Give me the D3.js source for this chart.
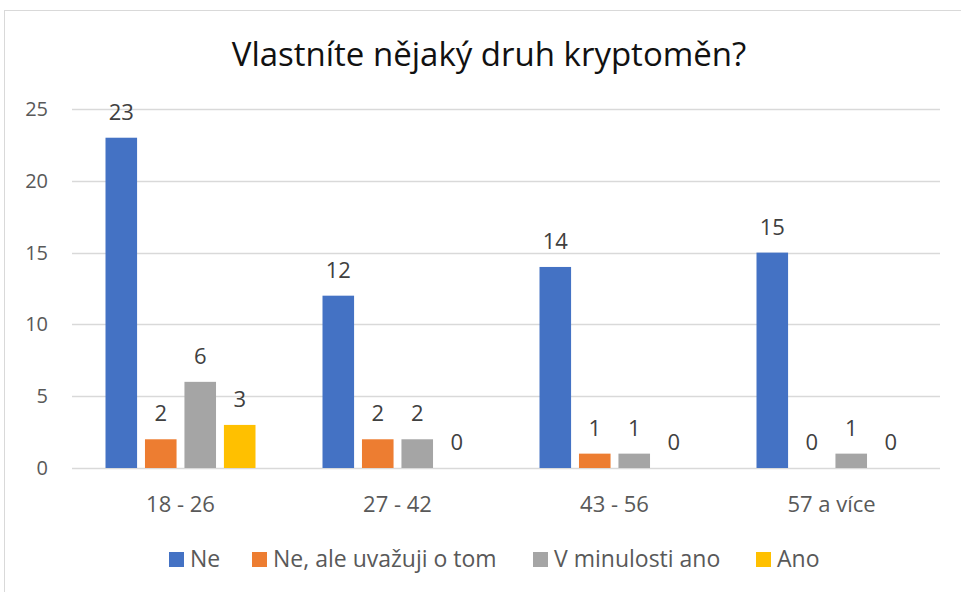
<!DOCTYPE html>
<html>
<head>
<meta charset="utf-8">
<script src="https://cdn.jsdelivr.net/npm/d3@7"></script>
<style>
  body { margin: 0; background: #fff; }
  svg { display: block; }
</style>
</head>
<body>
<div id="chart"></div>
<script>
const categories = ["18 - 26", "27 - 42", "43 - 56", "57 a více"];
const seriesNames = ["Ne", "Ne, ale uvažuji o tom", "V minulosti ano", "Ano"];
const ne = [23, 12, 14, 15];
const neAleUvazuji = [2, 2, 1, 0];
const vMinulostiAno = [6, 2, 1, 1];
const ano = [3, 0, 0, 0];
const yTicks = [0, 5, 10, 15, 20, 25];
const colors = ["#4472C4", "#ED7D31", "#A5A5A5", "#FFC000"];

const seriesValues = [ne, neAleUvazuji, vMinulostiAno, ano];
const font = "'Open Sans', 'Noto Sans', sans-serif";

const width = 961, height = 592;
const svg = d3.select("#chart").append("svg")
  .attr("width", width).attr("height", height);

// chart frame
svg.append("rect")
  .attr("x", 4.5).attr("y", 10.5)
  .attr("width", 1000).attr("height", 1000)
  .attr("fill", "#fff").attr("stroke", "#d9d9d9");

svg.append("text")
  .attr("x", 489).attr("y", 66)
  .attr("text-anchor", "middle")
  .attr("font-family", font).attr("font-size", 33)
  .attr("fill", "#111")
  .text("Vlastníte nějaký druh kryptoměn?");

const x0 = d3.scaleBand().domain(categories).range([72, 940]);
const x1 = d3.scaleBand().domain(seriesNames)
  .range([33.5, x0.bandwidth() - 33.5]).paddingInner(0.2);
const y = d3.scaleLinear().domain([0, 25]).range([468, 109]);

// gridlines
svg.append("g").selectAll("line").data(yTicks).join("line")
  .attr("x1", 72).attr("x2", 940)
  .attr("y1", d => Math.round(y(d)) + 0.5).attr("y2", d => Math.round(y(d)) + 0.5)
  .attr("stroke", "#d9d9d9").attr("stroke-width", 1.5);

// y labels
svg.append("g").selectAll("text").data(yTicks).join("text")
  .attr("x", 48).attr("y", d => y(d) + 7)
  .attr("text-anchor", "end")
  .attr("font-family", font).attr("font-size", 20)
  .attr("fill", "#595959")
  .text(d => d);

const groups = svg.append("g").selectAll("g").data(categories).join("g")
  .attr("transform", d => `translate(${x0(d)},0)`);

groups.selectAll("rect")
  .data((c, i) => seriesNames.map((s, j) => ({ s, v: seriesValues[j][i], j })))
  .join("rect")
  .attr("x", d => x1(d.s))
  .attr("width", x1.bandwidth())
  .attr("y", d => y(d.v))
  .attr("height", d => y(0) - y(d.v))
  .attr("fill", d => colors[d.j]);

groups.selectAll("text.lbl")
  .data((c, i) => seriesNames.map((s, j) => ({ s, v: seriesValues[j][i], j })))
  .join("text").attr("class", "lbl")
  .attr("x", d => x1(d.s) + x1.bandwidth() / 2)
  .attr("y", d => y(d.v) - 18)
  .attr("text-anchor", "middle")
  .attr("font-family", font).attr("font-size", 22)
  .attr("fill", "#404040")
  .text(d => d.v);

// category labels
svg.append("g").selectAll("text").data(categories).join("text")
  .attr("x", d => x0(d) + x0.bandwidth() / 2)
  .attr("y", 512)
  .attr("text-anchor", "middle")
  .attr("font-family", font).attr("font-size", 22)
  .attr("fill", "#595959")
  .text(d => d);

// legend
const legendX = [169, 252, 533, 756];
const legend = svg.append("g").selectAll("g").data(seriesNames).join("g")
  .attr("transform", (d, i) => `translate(${legendX[i]},552)`);
legend.append("rect")
  .attr("width", 15).attr("height", 15)
  .attr("fill", (d, i) => colors[i]);
legend.append("text")
  .attr("x", 21).attr("y", 15)
  .attr("font-family", font).attr("font-size", 23)
  .attr("fill", "#595959")
  .text(d => d);
</script>
</body>
</html>
